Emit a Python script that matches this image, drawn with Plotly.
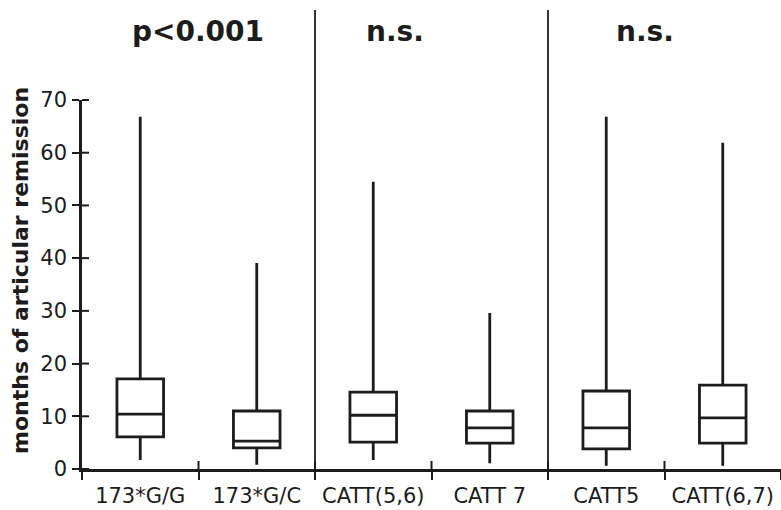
import plotly.graph_objects as go

categories = ["173*G/G", "173*G/C", "CATT(5,6)", "CATT 7", "CATT5", "CATT(6,7)"]
lower = [1.7, 0.8, 1.7, 1.1, 0.6, 0.6]
q1 = [6.1, 4.0, 5.1, 4.9, 3.8, 4.9]
median = [10.4, 5.3, 10.2, 7.8, 7.8, 9.7]
q3 = [17.1, 11.0, 14.6, 11.0, 14.8, 15.9]
upper = [66.8, 39.1, 54.5, 29.6, 66.8, 61.9]
group_labels = ["p<0.001", "n.s.", "n.s."]
y_ticks = [0, 10, 20, 30, 40, 50, 60, 70]
y_title = "months of articular remission"

INK = "#1c1c1c"
FONT = "DejaVu Sans"
W, H = 781, 510
M = dict(l=82, r=0, t=100, b=41)
PW = W - M["l"] - M["r"]
PH = H - M["t"] - M["b"]
YMAX = 70

fig = go.Figure()
fig.add_trace(go.Box(
    x=categories, q1=q1, median=median, q3=q3,
    lowerfence=lower, upperfence=upper,
    line=dict(color=INK, width=2.8), fillcolor="white",
    whiskerwidth=0, showlegend=False, hoverinfo="skip",
))

fig.update_layout(
    width=W, height=H, margin=M,
    plot_bgcolor="white", paper_bgcolor="white",
    boxgap=0.6, boxgroupgap=0,
    font=dict(family=FONT, color=INK),
    xaxis=dict(
        type="category", categoryarray=categories, range=[-0.5, 5.5],
        tickson="boundaries", ticks="outside", ticklen=8,
        tickcolor=INK, tickwidth=2, ticklabelstandoff=6,
        showline=True, linecolor=INK, linewidth=2.6, showgrid=False,
        tickfont=dict(size=21, family=FONT, color=INK), zeroline=False,
    ),
    yaxis=dict(
        range=[0, YMAX], tickvals=y_ticks, ticks="outside", ticklen=7,
        tickcolor=INK, tickwidth=2, ticklabelstandoff=1,
        showline=True, linecolor=INK, linewidth=2.6, showgrid=False,
        zeroline=False, tickfont=dict(size=21, family=FONT, color=INK),
    ),
)

# y-axis title (placed slightly above the plot centre, as in the original)
fig.add_annotation(text="<b>" + y_title + "</b>", xref="paper", yref="paper",
                   x=-62 / PW, y=(PH - 271 + M["t"]) / PH, textangle=-90,
                   showarrow=False, xanchor="center", yanchor="middle",
                   font=dict(size=22, family=FONT, color=INK))

# inner halves of the crossing tick marks
for v in y_ticks:
    yp = v / YMAX
    fig.add_shape(type="line", xref="paper", yref="paper",
                  x0=0, x1=7 / PW, y0=yp, y1=yp,
                  line=dict(color=INK, width=2))
for k in range(1, len(categories)):
    xp = k / len(categories)
    fig.add_shape(type="line", xref="paper", yref="paper",
                  x0=xp, x1=xp, y0=0, y1=8 / PH,
                  line=dict(color=INK, width=2))

# vertical separators between groups
for xb in [2 / 6, 4 / 6]:
    fig.add_shape(type="line", xref="paper", yref="paper",
                  x0=xb, x1=xb, y0=0, y1=(PH + M["t"] - 10) / PH,
                  line=dict(color=INK, width=1.8))

for txt, xp in zip(group_labels, [0.166, 0.448, 0.805]):
    fig.add_annotation(text="<b>" + txt + "</b>", xref="paper", yref="paper",
                       x=xp, y=(PH + M["t"] - 31) / PH, showarrow=False,
                       xanchor="center", yanchor="middle",
                       font=dict(size=28, family=FONT, color=INK))

fig.write_html("out.html")
